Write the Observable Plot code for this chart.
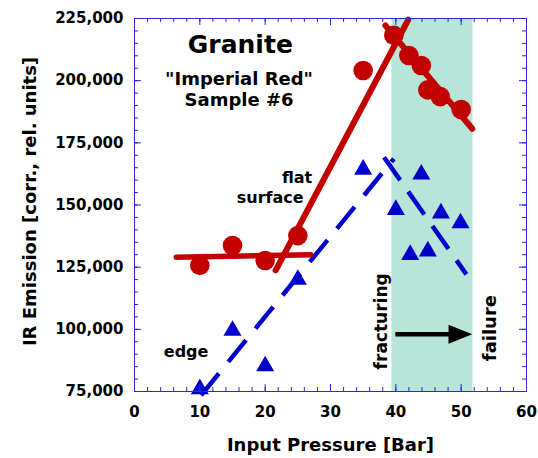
<!DOCTYPE html>
<html>
<head>
<meta charset="utf-8">
<script src="https://cdn.jsdelivr.net/npm/d3@7"></script>
<script src="https://cdn.jsdelivr.net/npm/@observablehq/plot@0.6"></script>
<style>
  html, body { margin: 0; padding: 0; background: #fff; }
  svg { display: block; }
</style>
</head>
<body>
<div id="chart"></div>
<script>
// Measured IR emission vs. input pressure, granite "Imperial Red" sample #6
const flatPressure = [10, 15, 20, 25, 35, 39.7, 42, 43.9, 44.9, 46.8, 50];
const flatEmission = [125700, 133700, 127700, 137700, 204100, 218200, 210100, 206100, 196300, 193600, 188400];
const edgePressure = [10, 15, 20, 25, 35, 40, 42.2, 43.9, 44.9, 46.9, 49.9];
const edgeEmission = [76000, 99500, 85200, 120000, 164300, 148100, 130000, 162300, 131400, 146700, 142700];

// Trend lines (end points) for the flat surface (solid) and the edge (dashed)
const flatBaseX = [6.4, 27];      const flatBaseY = [129000, 130000];
const flatRiseX = [21.6, 41.9];   const flatRiseY = [123700, 224500];
const flatFallX = [38.4, 51.7];   const flatFallY = [222200, 180650];
const edgeRiseX = [10.2, 39.7];   const edgeRiseY = [73500, 168600];
const edgeFallX = [38.2, 50.8];   const edgeFallY = [169200, 122100];

// Fracturing zone and the arrow leading to failure
const fractureZone = [39.4, 51.8];
const arrowX = [40, 51.7];
const arrowY = 98000;

// Axis ticks
const xMajorTicks = [0, 10, 20, 30, 40, 50, 60];
const xMinorTicks = d3.range(0, 61, 2);
const yMajorTicks = [75000, 100000, 125000, 150000, 175000, 200000, 225000];
const yMinorTicks = d3.range(75000, 225001, 5000);

const RED = "#c20000";
const BLUE = "#0000cc";
const FRAME = "#2a2ad6";
const TEAL = "#b7e5d8";

const W = 538, H = 458;
const M = {top: 18, right: 12, bottom: 67, left: 134};
const frameW = W - M.left - M.right;
const frameH = H - M.top - M.bottom;

const pts = (xs, ys) => xs.map((x, i) => ({x, y: ys[i]}));

// Filled arrow head with its tip at the origin, pointing right
const arrowHead = {
  draw(context, size) {
    const r = Math.sqrt(size / Math.PI);
    context.moveTo(0, 0);
    context.lineTo(-2.5 * r, -r);
    context.lineTo(-2.5 * r, r);
    context.closePath();
  }
};

const bold = {fontWeight: "bold", fill: "black"};
const label = (s, opts) => Plot.text([s], {text: d => d, ...bold, ...opts});

const chart = Plot.plot({
  width: W,
  height: H,
  marginTop: M.top,
  marginRight: M.right,
  marginBottom: M.bottom,
  marginLeft: M.left,
  x: {domain: [0, 60]},
  y: {domain: [75000, 225000]},
  style: {fontFamily: "'DejaVu Sans', sans-serif", fontWeight: "bold", background: "white", color: "black", overflow: "visible"},
  marks: [
    Plot.rect([fractureZone], {x1: d => d[0], x2: d => d[1], fill: TEAL}),

    // edge trend lines
    Plot.line(pts(edgeRiseX, edgeRiseY), {x: "x", y: "y", stroke: BLUE, strokeWidth: 4.5, strokeDasharray: "28,15", strokeLinecap: "butt"}),
    Plot.line(pts(edgeFallX, edgeFallY), {x: "x", y: "y", stroke: BLUE, strokeWidth: 4.5, strokeDasharray: "28,14", strokeLinecap: "butt"}),

    // flat surface trend lines
    Plot.line(pts(flatBaseX, flatBaseY), {x: "x", y: "y", stroke: RED, strokeWidth: 5.5}),
    Plot.line(pts(flatRiseX, flatRiseY), {x: "x", y: "y", stroke: RED, strokeWidth: 6}),
    Plot.line(pts(flatFallX, flatFallY), {x: "x", y: "y", stroke: RED, strokeWidth: 6}),

    Plot.dot(pts(flatPressure, flatEmission), {x: "x", y: "y", r: 9.8, fill: RED, stroke: "none"}),
    Plot.dot(pts(edgePressure, edgeEmission), {x: "x", y: "y", r: 6.7, symbol: "triangle", fill: BLUE, stroke: "none"}),

    // arrow from fracturing to failure
    Plot.ruleY([arrowY], {x1: arrowX[0], x2: arrowX[1], stroke: "black", strokeWidth: 4.5, insetRight: 20}),
    Plot.dot([arrowY], {x: arrowX[1], y: d => d, r: 9.5, symbol: arrowHead, fill: "black", stroke: "none"}),

    // annotations
    label("Granite", {x: 16.2, y: 211000, fontSize: 25, lineAnchor: "bottom"}),
    label("\"Imperial Red\"\nSample #6", {x: 16.0, y: 189800, fontSize: 18, lineHeight: 1.17, lineAnchor: "bottom"}),
    label("flat", {x: 27.2, y: 158700, fontSize: 16, textAnchor: "end", lineAnchor: "bottom"}),
    label("surface", {x: 25.9, y: 151000, fontSize: 16, textAnchor: "end", lineAnchor: "bottom"}),
    label("edge", {x: 7.9, y: 88900, fontSize: 16, lineAnchor: "bottom"}),
    label("fracturing", {x: 38.6, y: 103200, fontSize: 17, rotate: -90, lineAnchor: "bottom"}),
    label("failure", {x: 55.3, y: 100500, fontSize: 18, rotate: -90, lineAnchor: "bottom"}),

    // frame and inward ticks on all four sides
    Plot.frame({stroke: FRAME, strokeWidth: 1}),
    Plot.tickX(xMinorTicks, {x: d => d, stroke: FRAME, insetTop: frameH - 4}),
    Plot.tickX(xMinorTicks, {x: d => d, stroke: FRAME, insetBottom: frameH - 4}),
    Plot.tickX(xMajorTicks, {x: d => d, stroke: FRAME, insetTop: frameH - 7}),
    Plot.tickX(xMajorTicks, {x: d => d, stroke: FRAME, insetBottom: frameH - 7}),
    Plot.tickY(yMinorTicks, {y: d => d, stroke: FRAME, insetRight: frameW - 4}),
    Plot.tickY(yMinorTicks, {y: d => d, stroke: FRAME, insetLeft: frameW - 4}),
    Plot.tickY(yMajorTicks, {y: d => d, stroke: FRAME, insetRight: frameW - 7}),
    Plot.tickY(yMajorTicks, {y: d => d, stroke: FRAME, insetLeft: frameW - 7}),

    // tick labels
    Plot.axisX(xMajorTicks, {tickSize: 0, tickPadding: 15, fontSize: 15, fontWeight: "bold", fill: "black", label: null}),
    Plot.axisY(yMajorTicks, {tickSize: 0, tickPadding: 11, tickFormat: d3.format(","), fontSize: 15, fontWeight: "bold", fill: "black", label: null}),

    // axis titles
    Plot.text(["Input Pressure [Bar]"], {text: d => d, frameAnchor: "bottom", dy: 59, textAnchor: "middle", lineAnchor: "bottom", fontSize: 18, ...bold}),
    Plot.text(["IR Emission [corr., rel. units]"], {text: d => d, frameAnchor: "left", dx: -99, dy: -3.5, rotate: -90, textAnchor: "middle", lineAnchor: "bottom", fontSize: 18, ...bold})
  ]
});

document.getElementById("chart").appendChild(chart);
</script>
</body>
</html>
